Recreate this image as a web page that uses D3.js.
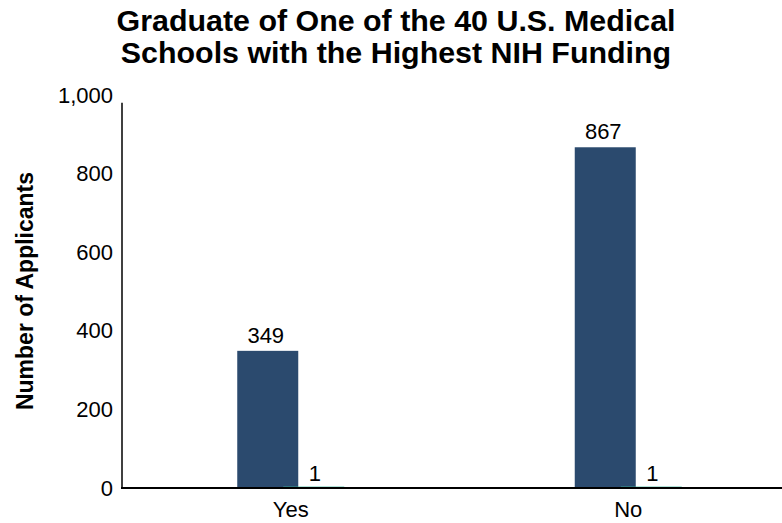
<!DOCTYPE html>
<html><head><meta charset="utf-8">
<script src="https://cdn.jsdelivr.net/npm/d3@7"></script>
<style>body{margin:0;background:#fff}svg{display:block}text{font-family:"Liberation Sans",Arial,sans-serif}</style>
</head><body><svg id="c" width="782" height="523"></svg>
<script>
const categories = ["Yes", "No"];
const seriesNames = ["Applicants", "Other"];
const seriesA = [349, 867];
const seriesB = [1, 1];
const yTicks = [0, 200, 400, 600, 800, 1000];
const titleLines = ["Graduate of One of the 40 U.S. Medical", "Schools with the Highest NIH Funding"];
const yLabel = "Number of Applicants";
const colors = ["#2B4A6E", "#3DB8A0"];

const svg = d3.select("#c");
const x = d3.scaleBand().domain(categories).range([122, 797]);
const y = d3.scaleLinear().domain([0, 1000]).range([488, 95]);
const barW = 61, off = 23;
const fs = "22px";

// title
svg.append("text").attr("text-anchor", "middle")
  .style("font-weight", "bold").style("font-size", "30.4px")
  .selectAll("tspan").data(titleLines).join("tspan")
  .attr("x", 396).attr("y", (d, i) => 31 + i * 32).text(d => d);

// y label
svg.append("text").attr("transform", "translate(33,291) rotate(-90)")
  .attr("text-anchor", "middle").style("font-weight", "bold").style("font-size", "23px")
  .text(yLabel);

// y axis
const ya = svg.append("g").attr("transform", "translate(122,0)")
  .call(d3.axisLeft(y).tickValues(yTicks).tickSize(0).tickPadding(9).tickFormat(d3.format(",")));
ya.select(".domain").remove();
ya.selectAll("text").style("font-size", fs).style("font-family", "'Liberation Sans',Arial,sans-serif").attr("fill", "#000");
svg.append("line").attr("x1", 122).attr("x2", 122).attr("y1", y(0)).attr("y2", y(980)).attr("stroke", "#000").attr("stroke-width", 1.5);

const data = categories.map((c, i) => ({c, a: seriesA[i], b: seriesB[i]}));
const cx = d => x(d.c) + x.bandwidth() / 2;

// bars
svg.selectAll(".ba").data(data).join("rect")
  .attr("x", d => cx(d) - off - barW / 2).attr("width", barW)
  .attr("y", d => y(d.a)).attr("height", d => y(0) - y(d.a)).attr("fill", colors[0]);
svg.selectAll(".bb").data(data).join("rect")
  .attr("x", d => cx(d) + off - barW / 2).attr("width", barW)
  .attr("y", d => y(d.b) - 1).attr("height", d => y(0) - y(d.b) + 1).attr("fill", colors[1]);

// value labels
svg.selectAll(".la").data(data).join("text")
  .attr("x", d => cx(d) - off - 2).attr("y", d => y(d.a) - 8).attr("text-anchor", "middle")
  .style("font-size", fs).text(d => d.a);
svg.selectAll(".lb").data(data).join("text")
  .attr("x", d => cx(d) + off + 1).attr("y", d => y(d.b) - 7).attr("text-anchor", "middle")
  .style("font-size", fs).text(d => d.b);

// x axis
svg.append("line").attr("x1", 121).attr("x2", 782).attr("y1", y(0)).attr("y2", y(0)).attr("stroke", "#000").attr("stroke-width", 2);
svg.selectAll(".xl").data(categories).join("text")
  .attr("x", d => x(d) + x.bandwidth() / 2).attr("y", 517).attr("text-anchor", "middle")
  .style("font-size", fs).text(d => d);
</script></body></html>
